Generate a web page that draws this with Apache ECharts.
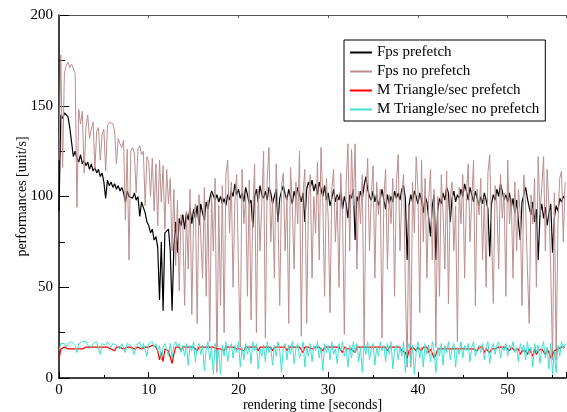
<!DOCTYPE html>
<html>
<head>
<meta charset="utf-8">
<script src="https://cdn.jsdelivr.net/npm/echarts@6/dist/echarts.min.js"></script>
<style>
  html, body { margin: 0; padding: 0; background: #fff; }
  #chart { width: 567px; height: 412px; }
</style>
</head>
<body>
<div id="chart"></div>
<script>
// sampling step of the recording, seconds
var step = 0.2;

var seriesNames = ['Fps prefetch', 'Fps no prefetch', 'M Triangle/sec prefetch', 'M Triangle/sec no prefetch'];

// Fps prefetch
var fpsPrefetch = [
  92,145,143,146,147, 144,138,130,122,125, 121,119,123,118,120, 117,119,115,118,114,
  116,113,115,111,113, 108,99,109,106,108, 105,107,104,106,103, 105,102,97,103,100,
  101,99,102,98,100, 89,97,94,91,86, 84,80,82,76,78, 72,43,75,37,80,
  79,82,70,37,72, 86,69,88,84,90, 82,91,87,94,85, 93,88,95,84,96,
  91,87,97,93,99, 103,104,98,101,97, 100,96,99,95,101, 98,103,100,107,101,
  104,99,102,97,105, 101,96,98,83,100, 104,97,106,101,99, 103,98,105,102,96,
  100,104,86,99,103, 106,101,98,104,100, 96,103,99,105,101, 97,102,86,104,108,
  105,109,103,107,101, 108,104,100,106,98, 102,95,99,104,97, 101,98,103,93,100,
  96,88,101,99,104, 76,100,97,103,99, 106,111,104,100,98, 103,97,101,95,99,
  104,98,93,101,96, 100,97,103,99,102, 98,104,106,99,65, 95,101,97,103,100,
  96,102,98,91,100, 97,88,78,95,101, 65,92,99,96,102, 98,105,102,86,99,
  103,97,101,99,104, 100,107,103,98,105, 101,97,103,99,95, 100,96,102,98,93,
  67,96,101,98,104, 100,107,103,98,101, 97,102,94,99,91, 98,86,76,97,101,
  105,99,94,90,97, 86,93,65,90,96, 88,94,84,91,96, 69,88,95,92,99,
  97,100,99
];

// Fps no prefetch
var fpsNoPrefetch = [
  120,178,116,168,172, 174,171,173,172,168, 94,148,140,147,113, 138,145,132,137,141,
  115,136,138,120,134, 137,114,139,141,142, 140,136,118,132,129, 127,131,87,126,65,
  125,127,124,102,126, 128,123,125,95,122, 119,100,121,92,118, 84,120,97,117,82,
  115,96,110,70,104, 62,98,48,90,85, 40,92,60,104,35, 88,96,30,101,78,
  55,105,45,98,20, 102,70,110,3,95, 40,106,25,112,120, 80,108,50,97,112,
  60,17,115,85,101, 45,109,32,92,118, 25,104,70,96,125, 22,110,127,75,99,
  55,118,90,40,106, 113,70,100,30,116, 95,60,108,85,125, 23,102,115,30,98,
  112,55,100,80,119, 65,127,97,45,110, 88,36,104,115,75, 100,50,113,90,24,
  108,129,70,126,95, 129,60,103,85,112, 17,98,121,70,100, 117,55,108,90,104,
  22,99,115,60,101, 85,110,45,107,123, 70,100,112,50,6, 95,6,108,80,122,
  104,36,120,75,110, 55,98,115,65,104, 17,100,45,112,90, 60,114,41,99,108,
  70,95,20,105,85, 112,55,100,118,75, 98,120,40,104,90, 110,65,100,50,113,
  123,80,41,106,95, 60,112,88,102,45, 120,85,99,55,108, 70,104,90,40,112,
  95,60,30,101,85, 110,50,122,90,105, 122,70,115,95,60, 10,102,10,85,110,
  114,75,108
];

// M Triangle/sec prefetch
var triPrefetch = [
  10,16,16,17,16, 16,16,16,17,16, 16,16,17,16,16, 17,16,17,16,17,
  16,17,16,17,16, 17,16,17,17,16, 17,15,17,16,17, 17,16,17,17,16,
  17,17,16,17,17, 17,16,17,17,17, 17,17,18,17,17, 15,10,14,9,16,
  17,15,16,8,13, 17,16,17,15,17, 16,17,16,17,16, 17,16,15,17,16,
  17,16,17,16,17, 16,17,17,16,17, 16,17,15,17,16, 17,16,17,17,16,
  17,16,17,15,17, 16,17,16,17,16, 17,15,17,16,17, 16,17,16,17,15,
  17,16,17,16,17, 16,17,15,17,16, 17,16,17,16,17, 16,14,17,16,17,
  17,16,17,17,16, 17,16,15,17,16, 17,16,17,16,17, 16,17,16,14,17,
  17,16,17,16,17, 14,17,16,17,16, 17,16,17,16,17, 16,17,16,17,16,
  17,16,17,15,17, 16,17,16,17,16, 17,15,16,14,11, 15,16,17,16,15,
  17,16,15,17,16, 17,14,16,15,11, 13,16,17,16,17, 16,17,16,17,16,
  17,16,17,16,17, 16,17,16,17,16, 17,16,17,15,17, 16,17,14,16,17,
  14,16,17,16,15, 17,16,17,16,17, 16,15,17,16,15, 14,16,13,15,16,
  15,13,16,14,12, 16,13,15,14,16, 15,13,16,14,11, 12,15,14,16,17,
  17,18,17
];

// M Triangle/sec no prefetch
var triNoPrefetch = [
  15,19,18,19,17, 19,18,20,19,18, 14,19,18,20,19, 20,18,19,17,19,
  18,20,19,13,19, 19,18,20,19,17, 19,20,18,19,16, 19,18,14,19,20,
  18,19,13,18,19, 20,16,19,18,12, 19,18,20,17,19, 15,18,10,17,19,
  18,12,19,11,18, 20,17,19,14,18, 12,19,7,18,15, 20,9,17,19,13,
  18,4,16,20,10, 17,2,19,8,15, 2,18,12,20,9, 16,19,11,18,14,
  20,6,17,10,19, 13,18,8,20,15, 19,5,16,12,18, 9,20,14,17,7,
  18,12,20,15,3, 17,19,10,18,13, 20,8,16,19,11, 14,20,6,17,12,
  19,9,18,15,20, 11,17,4,19,14, 18,10,20,13,16, 8,19,15,20,12,
  17,6,18,11,20, 14,19,9,17,3, 18,13,20,10,16, 19,7,17,12,20,
  15,18,9,19,13, 20,5,16,18,10, 17,12,20,3,15, 19,8,18,2,14,
  20,11,17,6,19, 13,18,9,20,15, 3,17,12,19,7, 18,14,20,10,16,
  19,6,17,13,20, 11,18,15,19,9, 17,20,12,16,18, 14,19,10,17,20,
  8,16,19,13,18, 20,11,17,15,19, 12,18,16,20,14, 17,9,19,15,18,
  10,20,13,17,6, 19,14,18,8,16, 20,11,17,5,19, 2,15,3,18,12,
  20,16,19
];

var colors = ['#000000', '#bc8f8f', '#ff0000', '#40e0d0'];
var widths = [1.2, 1, 1.2, 1];

function pairs(vals) {
  var out = [];
  for (var i = 0; i < vals.length; i++) {
    out.push([+(i * step).toFixed(1), vals[i]]);
  }
  return out;
}

var allValues = [fpsPrefetch, fpsNoPrefetch, triPrefetch, triNoPrefetch];

var font = 'Liberation Serif';

var chart = echarts.init(document.getElementById('chart'));

var series = [];
for (var k = 0; k < allValues.length; k++) {
  series.push({
    name: seriesNames[k],
    type: 'line',
    data: pairs(allValues[k]),
    showSymbol: false,
    symbol: 'none',
    lineStyle: { color: colors[k], width: widths[k] },
    itemStyle: { color: colors[k] },
    z: 2 + k
  });
}

var option = {
  animation: false,
  backgroundColor: '#ffffff',
  grid: { left: 59, right: 1, top: 15, bottom: 34, containLabel: false, outerBoundsMode: 'none' },
  legend: {
    orient: 'vertical',
    left: 344,
    top: 40,
    data: seriesNames,
    icon: 'rect',
    itemWidth: 22,
    itemHeight: 2,
    itemGap: 0,
    itemStyle: { borderWidth: 0 },
    padding: [3, 6, 2, 6],
    backgroundColor: '#ffffff',
    borderColor: '#000000',
    borderWidth: 1,
    borderRadius: 0,
    textStyle: { fontFamily: font, fontSize: 15, color: '#000', lineHeight: 19, height: 19 }
  },
  xAxis: [{
    type: 'value',
    min: 0,
    max: 56.5,
    interval: 10,
    position: 'bottom',
    name: 'rendering time [seconds]',
    nameLocation: 'middle',
    nameGap: 20,
    nameMoveOverlap: false,
    nameTextStyle: { fontFamily: font, fontSize: 14, color: '#000' },
    axisLine: { show: true, lineStyle: { color: '#000', width: 1.5 } },
    axisTick: { show: true, inside: true, length: 6, lineStyle: { color: '#000' } },
    minorTick: { show: true, splitNumber: 2, length: 3, lineStyle: { color: '#000' } },
    axisLabel: { fontFamily: font, fontSize: 15, color: '#000', margin: 5, showMaxLabel: false },
    splitLine: { show: false }
  }, {
    type: 'value',
    min: 0,
    max: 56.5,
    interval: 10,
    position: 'top',
    axisLine: { show: true, lineStyle: { color: '#555', width: 1 } },
    axisTick: { show: true, inside: true, length: 3, lineStyle: { color: '#555' } },
    minorTick: { show: false },
    axisLabel: { show: false },
    splitLine: { show: false }
  }],
  yAxis: [{
    type: 'value',
    min: 0,
    max: 200,
    interval: 50,
    position: 'left',
    name: 'performances [unit/s]',
    nameLocation: 'middle',
    nameGap: 30,
    nameMoveOverlap: false,
    nameTextStyle: { fontFamily: font, fontSize: 14, color: '#000' },
    axisLine: { show: true, lineStyle: { color: '#000', width: 1.5 } },
    axisTick: { show: true, inside: true, length: 10, lineStyle: { color: '#000' } },
    minorTick: { show: true, splitNumber: 2, length: 6, lineStyle: { color: '#000' } },
    axisLabel: { fontFamily: font, fontSize: 15, color: '#000', margin: 6 },
    splitLine: { show: false }
  }],
  series: series
};

chart.setOption(option);
</script>
</body>
</html>
